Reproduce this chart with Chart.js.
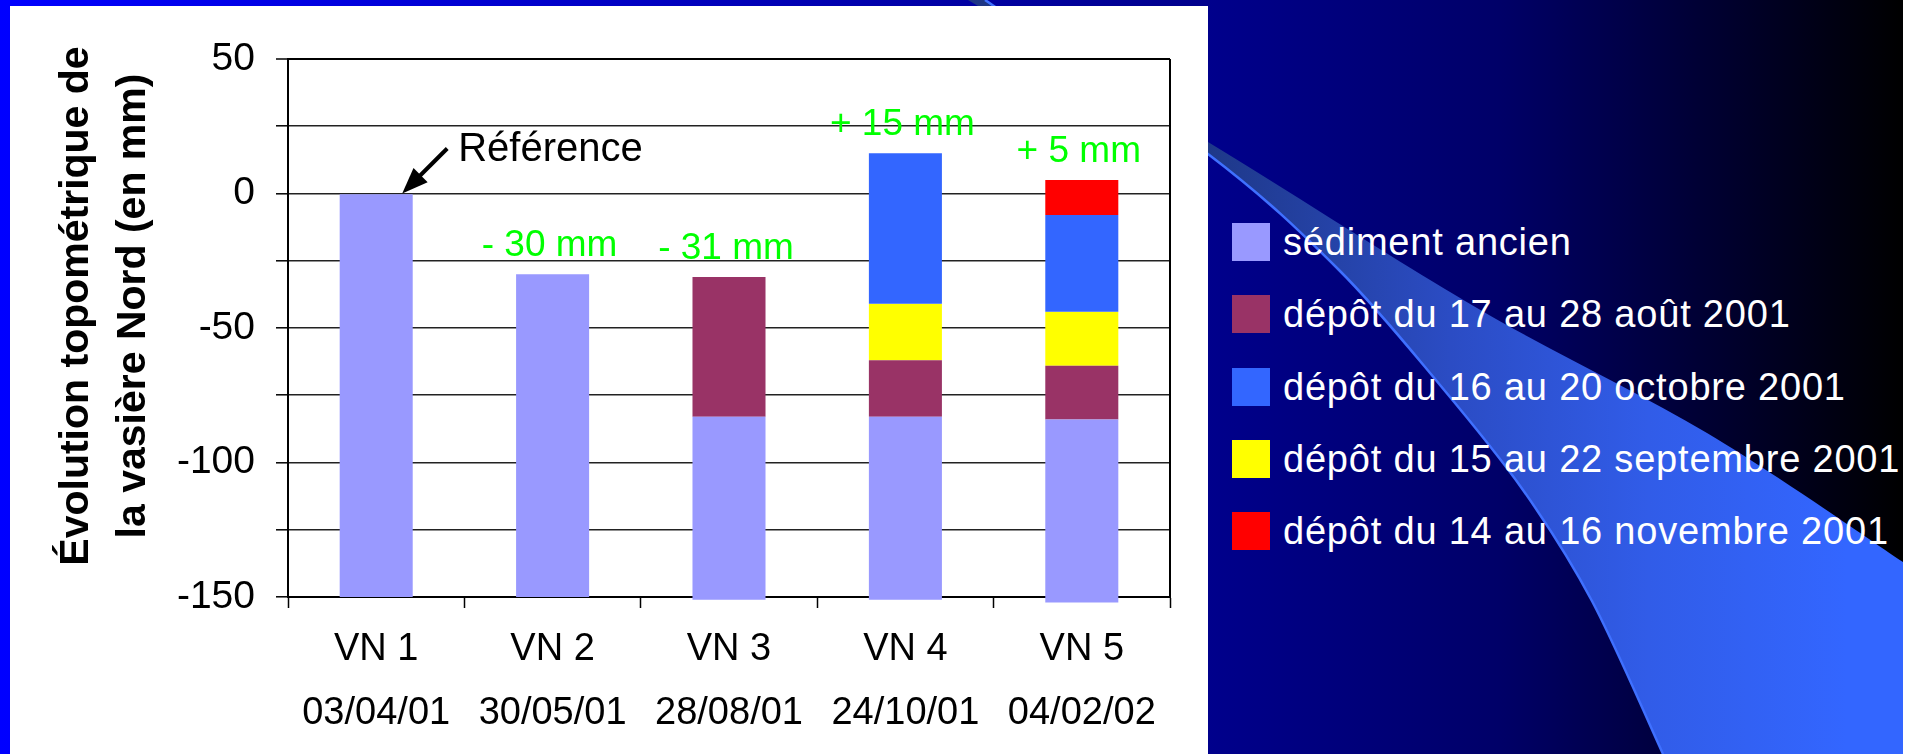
<!DOCTYPE html>
<html lang="fr">
<head>
<meta charset="utf-8">
<title>Évolution topométrique de la vasière Nord</title>
<script src="https://cdn.jsdelivr.net/npm/chart.js@4.4.1/dist/chart.umd.min.js"></script>
<style>
  html, body { margin: 0; padding: 0; }
  body {
    width: 1923px; height: 754px; overflow: hidden; position: relative;
    font-family: "Liberation Sans", Arial, sans-serif;
    background: linear-gradient(to right, #0000ff 0px, #00008c 1208px, #000068 1500px, #000000 1903px, #ffffff 1903px);
  }
  #swoosh { position: absolute; left: 0; top: 0; }
  #panel { position: absolute; left: 10px; top: 6px; width: 1198px; height: 748px; background: #ffffff; }
  #chartWrap { position: absolute; left: 0; top: 0; width: 1208px; height: 754px; }
  #legend { position: absolute; left: 1232px; top: 0; }
  .item { position: absolute; left: 0; height: 38px; white-space: nowrap; }
  .swatch { position: absolute; left: 0; top: 0; width: 38px; height: 38px; }
  .text { position: absolute; left: 51px; top: 50%; transform: translateY(-50%);
          color: #ffffff; font-size: 38px; line-height: 1; letter-spacing: 0.8px; }
</style>
</head>
<body>
<svg id="swoosh" width="1923" height="754" xmlns="http://www.w3.org/2000/svg">
  <defs>
    <linearGradient id="bandFill" gradientUnits="userSpaceOnUse" x1="960" y1="0" x2="1903" y2="0">
      <stop offset="0" stop-color="#1d3584"/>
      <stop offset="0.26" stop-color="#1e3888"/>
      <stop offset="0.52" stop-color="#2b4cc4"/>
      <stop offset="0.73" stop-color="#315ce8"/>
      <stop offset="0.94" stop-color="#3366ff"/>
    </linearGradient>
  </defs>
  <path id="band" fill="url(#bandFill)"/>
  <path id="bandEdge" fill="none" stroke="#3f70ff" stroke-width="2.5"/>
</svg>
<div id="panel"></div>
<div id="chartWrap"><canvas id="chart" width="1208" height="754"></canvas></div>
<div id="legend"></div>

<script>
// ---- Survey data (levels in mm relative to the VN 1 reference surface) ----
const categories  = ['VN 1', 'VN 2', 'VN 3', 'VN 4', 'VN 5'];
const surveyDates = ['03/04/01', '30/05/01', '28/08/01', '24/10/01', '04/02/02'];

// lower limit of the old sediment column at each survey
const baseLevel = [-150, -150, -151, -151, -152];

// level reached at the top of each layer (null = layer absent)
const sedimentAncien  = [0, -30, -83, -83, -84];
const depotAout       = [null, null, -31, -62, -64];
const depotSeptembre  = [null, null, null, -41, -44];
const depotOctobre    = [null, null, null, 15, -8];
const depotNovembre   = [null, null, null, null, 5];

// y axis: grid every 25 mm, labels every 50 mm
const yLabelledTicks = [-150, -100, -50, 0, 50];

const referenceIndex = 0;   // survey used as the zero level
const referenceText = 'Référence';

const axisTitleLines = ['Évolution topométrique de', 'la vasière Nord (en mm)'];

// physical stacking order, bottom to top
const stackOrder = [sedimentAncien, depotAout, depotSeptembre, depotOctobre, depotNovembre];

// legend order
const series = [
  { label: 'sédiment ancien',                  tops: sedimentAncien, color: '#9999ff' },
  { label: 'dépôt du 17 au 28 août 2001',      tops: depotAout,      color: '#993366' },
  { label: 'dépôt du 16 au 20 octobre 2001',   tops: depotOctobre,   color: '#3366ff' },
  { label: 'dépôt du 15 au 22 septembre 2001', tops: depotSeptembre, color: '#ffff00' },
  { label: 'dépôt du 14 au 16 novembre 2001',  tops: depotNovembre,  color: '#ff0000' }
];

// floating [bottom, top] ranges for each layer
const ranges = new Map(stackOrder.map(layer => [layer, []]));
const surfaceLevel = [];
categories.forEach((_, i) => {
  let prev = baseLevel[i];
  stackOrder.forEach(layer => {
    const top = layer[i];
    if (top === null) { ranges.get(layer).push(null); }
    else { ranges.get(layer).push([prev, top]); prev = top; }
  });
  surfaceLevel.push(prev);
});

const FONT = '"Liberation Sans", Arial, sans-serif';
Chart.defaults.font.family = FONT;

// ---- background swoosh ----
function segments(pts) {
  let d = '';
  for (let i = 0; i < pts.length - 1; i++) {
    const p0 = pts[i - 1] || pts[i], p1 = pts[i], p2 = pts[i + 1], p3 = pts[i + 2] || p2;
    const c1 = [p1[0] + (p2[0] - p0[0]) / 6, p1[1] + (p2[1] - p0[1]) / 6];
    const c2 = [p2[0] - (p3[0] - p1[0]) / 6, p2[1] - (p3[1] - p1[1]) / 6];
    d += ` C${c1[0]},${c1[1]} ${c2[0]},${c2[1]} ${p2[0]},${p2[1]}`;
  }
  return d;
}
const upperEdge = [[968, 0], [1208, 142], [1477, 308], [1707, 433], [1903, 562]];
const lowerEdge = [[985, 0], [1208, 154], [1338, 269], [1440, 385], [1523, 490], [1592, 601], [1663, 754]];
const lowerRev = lowerEdge.slice().reverse();
document.getElementById('band').setAttribute('d',
  `M${upperEdge[0]}` + segments(upperEdge) + ' L1903,754 L1663,754' + segments(lowerRev) + ' Z');
document.getElementById('bandEdge').setAttribute('d', `M${lowerEdge[0]}` + segments(lowerEdge));

// ---- plugins ----
const yTitlePlugin = {
  id: 'yTitle',
  afterDraw(chart) {
    const { ctx, chartArea } = chart;
    const cy = (chartArea.top + chartArea.bottom) / 2 - 22;
    ctx.save();
    ctx.fillStyle = '#000';
    ctx.font = 'bold 41px ' + FONT;
    ctx.textAlign = 'center';
    ctx.textBaseline = 'alphabetic';
    [88, 145].forEach((x, k) => {
      ctx.save();
      ctx.translate(x, cy);
      ctx.rotate(-Math.PI / 2);
      ctx.fillText(axisTitleLines[k], 0, 0);
      ctx.restore();
    });
    ctx.restore();
  }
};

const framePlugin = {
  id: 'frame',
  beforeDatasetsDraw(chart) {
    const { ctx, chartArea } = chart;
    ctx.save();
    ctx.strokeStyle = '#000';
    ctx.lineWidth = 2;
    ctx.beginPath();
    ctx.moveTo(chartArea.right, chartArea.top);
    ctx.lineTo(chartArea.right, chartArea.bottom);
    ctx.stroke();
    ctx.restore();
  }
};

const levelLabelPlugin = {
  id: 'levelLabels',
  afterDatasetsDraw(chart) {
    const { ctx, scales } = chart;
    ctx.save();
    categories.forEach((_, i) => {
      const x = scales.x.getPixelForValue(i);
      const v = surfaceLevel[i];
      const y = scales.y.getPixelForValue(v);
      if (i === referenceIndex) {
        // arrow pointing at the reference surface
        const tipX = x + 26, tipY = y;
        const tailX = tipX + 45, tailY = tipY - 45;
        const len = Math.hypot(tipX - tailX, tipY - tailY);
        const ux = (tipX - tailX) / len, uy = (tipY - tailY) / len;
        const hl = 26, hw = 10;
        const bx = tipX - ux * hl, by = tipY - uy * hl;
        ctx.strokeStyle = '#000';
        ctx.fillStyle = '#000';
        ctx.lineWidth = 4;
        ctx.beginPath();
        ctx.moveTo(tailX, tailY);
        ctx.lineTo(bx + ux * 2, by + uy * 2);
        ctx.stroke();
        ctx.beginPath();
        ctx.moveTo(tipX, tipY);
        ctx.lineTo(bx - uy * hw, by + ux * hw);
        ctx.lineTo(bx + uy * hw, by - ux * hw);
        ctx.closePath();
        ctx.fill();
        ctx.font = '40px ' + FONT;
        ctx.textAlign = 'left';
        ctx.textBaseline = 'alphabetic';
        ctx.fillText(referenceText, tailX + 11, tailY + 12);
      } else {
        const txt = (v < 0 ? '- ' : '+ ') + Math.abs(v) + ' mm';
        ctx.fillStyle = '#00ff00';
        ctx.font = '37px ' + FONT;
        ctx.textAlign = 'center';
        ctx.textBaseline = 'middle';
        ctx.fillText(txt, x - 3, y - 28);
      }
    });
    ctx.restore();
  }
};

// ---- chart ----
const chart = new Chart(document.getElementById('chart'), {
  type: 'bar',
  data: {
    labels: categories.map((c, i) => [c, surveyDates[i]]),
    datasets: series.map(s => ({
      label: s.label,
      data: ranges.get(s.tops),
      backgroundColor: s.color,
      borderWidth: 0
    }))
  },
  options: {
    responsive: false,
    animation: false,
    layout: { padding: { left: 0, top: 59, right: 38, bottom: 0 } },
    datasets: { bar: { barPercentage: 0.414, categoryPercentage: 1, clip: false } },
    plugins: { legend: { display: false }, tooltip: { enabled: false } },
    scales: {
      x: {
        stacked: true,
        offset: true,
        grid: { display: true, drawOnChartArea: false, drawTicks: true, tickLength: 11,
                tickColor: '#000', tickWidth: 1.5, offset: true },
        border: { display: true, color: '#000', width: 2 },
        ticks: { color: '#000', font: { size: 38, lineHeight: 64 / 38 }, padding: 10,
                 maxRotation: 0, autoSkip: false },
        afterFit(s) { s.height = 157; }
      },
      y: {
        stacked: false,
        min: -150,
        max: 50,
        ticks: { stepSize: 25, color: '#000', font: { size: 39 }, padding: 21,
                 callback: v => yLabelledTicks.includes(v) ? String(v) : '' },
        grid: {
          color: c => (c.tick && c.tick.value === 50) ? '#000' : '#222222',
          lineWidth: c => (c.tick && c.tick.value === 50) ? 2 : 1.6,
          tickLength: 12, tickColor: '#000', tickWidth: 1.5
        },
        border: { color: '#000', width: 2 },
        afterFit(s) { s.width = 288; }
      }
    }
  },
  plugins: [yTitlePlugin, framePlugin, levelLabelPlugin]
});

// ---- legend ----
const legend = document.getElementById('legend');
chart.data.datasets.forEach((ds, i) => {
  const item = document.createElement('div');
  item.className = 'item';
  item.style.top = (242 + 72.25 * i - 19) + 'px';
  const sw = document.createElement('div');
  sw.className = 'swatch';
  sw.style.background = ds.backgroundColor;
  const tx = document.createElement('div');
  tx.className = 'text';
  tx.textContent = ds.label;
  item.appendChild(sw);
  item.appendChild(tx);
  legend.appendChild(item);
});
</script>
</body>
</html>
